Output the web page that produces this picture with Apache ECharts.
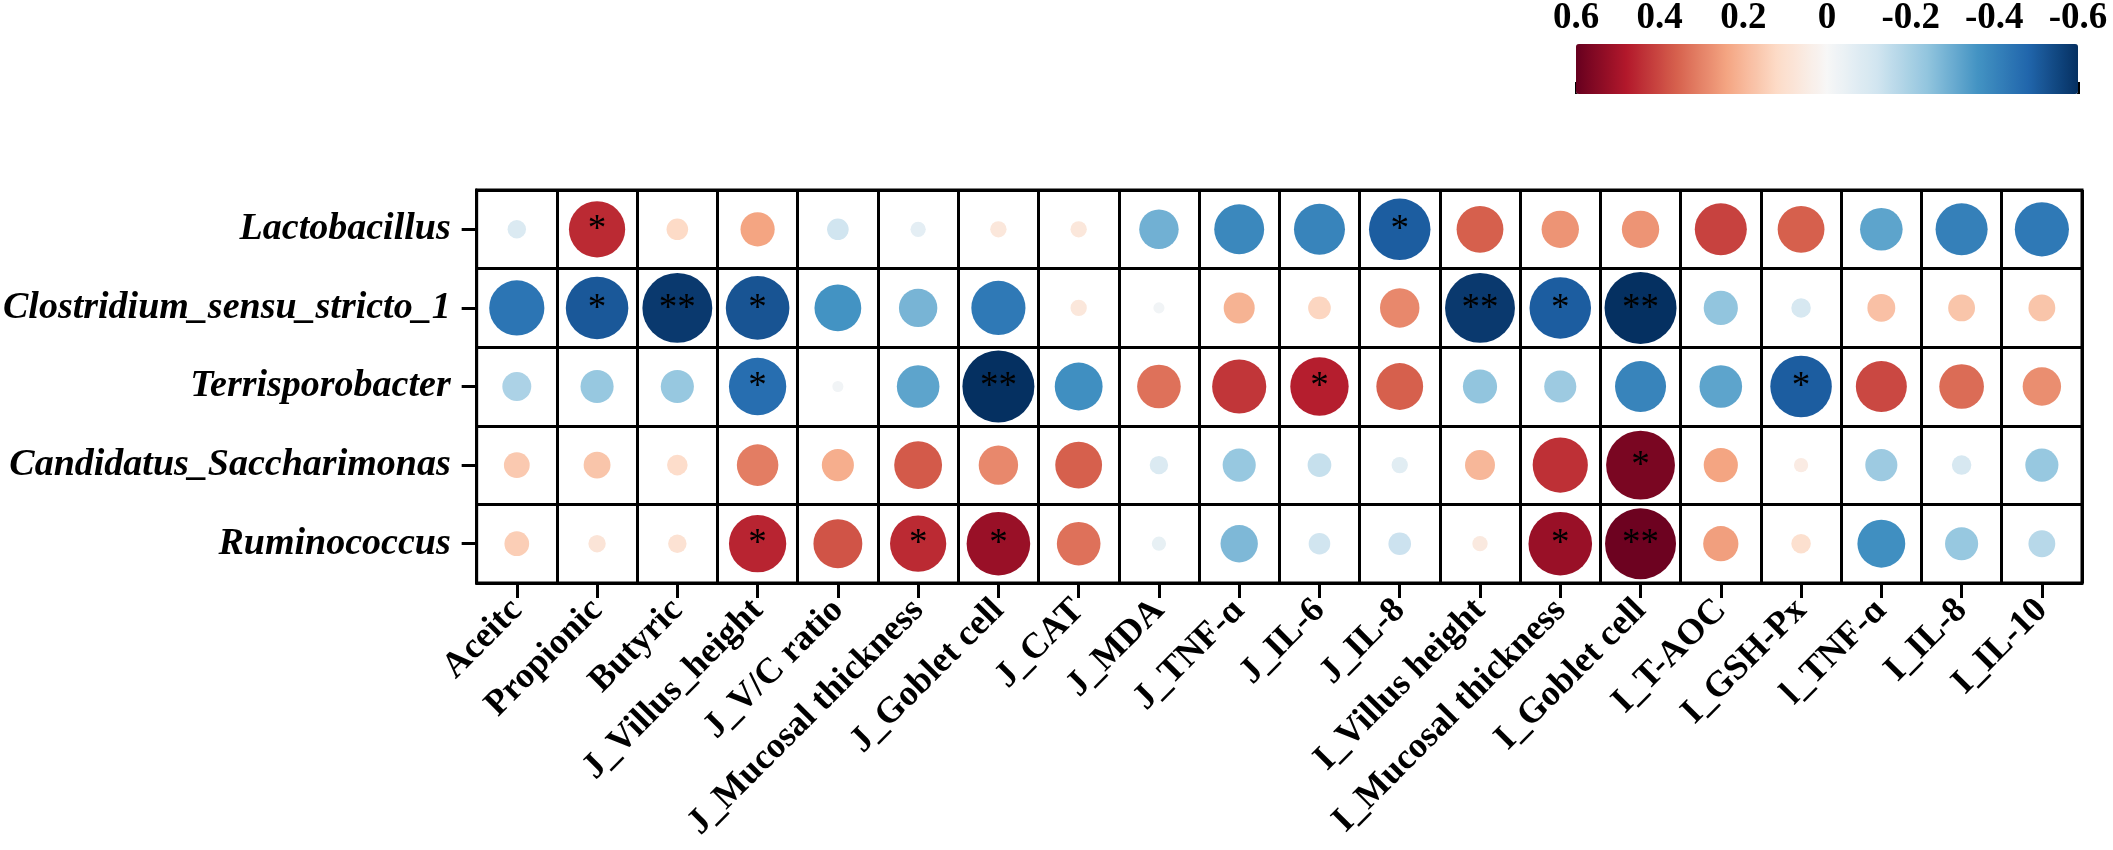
<!DOCTYPE html>
<html>
<head>
<meta charset="utf-8">
<script src="https://cdn.jsdelivr.net/npm/echarts@6/dist/echarts.min.js"></script>
<style>
html,body{margin:0;padding:0;background:#fff;}
#chart{width:2113px;height:850px;}
</style>
</head>
<body>
<div id="chart"></div>
<script>
// ---- data ----
const indicators = ['Aceitc','Propionic','Butyric','J_Villus_height','J_V/C ratio','J_Mucosal thickness','J_Goblet cell','J_CAT','J_MDA','J_TNF-ɑ','J_IL-6','J_IL-8','I_Villus height','I_Mucosal thickness','I_Goblet cell','I_T-AOC','I_GSH-Px','l_TNF-ɑ','I_IL-8','I_IL-10'];
const genera = ['Lactobacillus','Clostridium_sensu_stricto_1','Terrisporobacter','Candidatus_Saccharimonas','Ruminococcus'];

const lactobacillus   = [-0.09, 0.45, 0.12, 0.24,-0.12,-0.06, 0.07, 0.07,-0.29,-0.39,-0.40,-0.50, 0.36, 0.27, 0.27, 0.41, 0.36,-0.32,-0.41,-0.43];
const clostridium     = [-0.44,-0.51,-0.58,-0.52,-0.36,-0.28,-0.43, 0.07,-0.02, 0.21, 0.13, 0.29,-0.58,-0.50,-0.60,-0.24,-0.10, 0.18, 0.17, 0.17];
const terrisporobacter= [-0.19,-0.23,-0.23,-0.46,-0.02,-0.32,-0.60,-0.37, 0.33, 0.43, 0.47, 0.36,-0.24,-0.22,-0.40,-0.32,-0.50, 0.40, 0.34, 0.28];
const candidatus      = [ 0.16, 0.17, 0.11, 0.31, 0.22, 0.37, 0.29, 0.36,-0.09,-0.23,-0.14,-0.07, 0.20, 0.44, 0.57, 0.24, 0.05,-0.22,-0.10,-0.23];
const ruminococcus    = [ 0.15, 0.08, 0.09, 0.46, 0.38, 0.45, 0.52, 0.33,-0.05,-0.27,-0.12,-0.13, 0.06, 0.52, 0.59, 0.25, 0.10,-0.37,-0.23,-0.17];

const sigLactobacillus    = ['','*','','','','','','','','','','*','','','','','','','',''];
const sigClostridium      = ['','*','**','*','','','','','','','','','**','*','**','','','','',''];
const sigTerrisporobacter = ['','','','*','','','**','','','','*','','','','','','*','','',''];
const sigCandidatus       = ['','','','','','','','','','','','','','','*','','','','',''];
const sigRuminococcus     = ['','','','*','','*','*','','','','','','','*','**','','','','',''];

const colorbarTicks = [0.6, 0.4, 0.2, 0, -0.2, -0.4, -0.6];

// ---- build ----
const valueRows = [lactobacillus, clostridium, terrisporobacter, candidatus, ruminococcus];
const sigRows = [sigLactobacillus, sigClostridium, sigTerrisporobacter, sigCandidatus, sigRuminococcus];
const points = [];
valueRows.forEach((row, yi) => row.forEach((v, xi) => points.push([xi, yi, v, sigRows[yi][xi]])));

const FONT = "'Liberation Serif','Times New Roman',serif";
const cbMin = Math.min(...colorbarTicks), cbMax = Math.max(...colorbarTicks);

const chart = echarts.init(document.getElementById('chart'), null, {renderer: 'canvas'});
chart.setOption({
  animation: false,
  backgroundColor: '#fff',
  grid: [
    {left: 470, right: 31, top: 190, bottom: 267, show: true, borderColor: '#000', borderWidth: 3, backgroundColor: 'transparent'},
    {left: 1576, right: 35, top: 44, height: 50, show: false}
  ],
  xAxis: [
    {
      type: 'category', data: indicators, gridIndex: 0, boundaryGap: true,
      axisLine: {show: true, lineStyle: {color: '#000', width: 3}},
      axisTick: {show: true, alignWithLabel: true, length: 15, lineStyle: {color: '#000', width: 3}},
      splitLine: {show: true, lineStyle: {color: '#000', width: 3}},
      axisLabel: {interval: 0, rotate: 45, margin: 22, color: '#000', fontSize: 36, fontWeight: 'bold', fontFamily: FONT}
    },
    {
      type: 'value', gridIndex: 1, position: 'top', min: cbMin, max: cbMax, interval: 0.2, inverse: true,
      axisLine: {show: false},
      axisTick: {show: true, length: 12, lineStyle: {color: '#000', width: 3}},
      splitLine: {show: false},
      axisLabel: {margin: 9, color: '#000', fontSize: 37, fontWeight: 'bold', fontFamily: FONT,
        formatter: v => String(Math.round(v * 10) / 10)}
    }
  ],
  yAxis: [
    {
      type: 'category', data: genera, gridIndex: 0, inverse: true, boundaryGap: true,
      axisLine: {show: true, lineStyle: {color: '#000', width: 3}},
      axisTick: {show: true, alignWithLabel: true, length: 15, lineStyle: {color: '#000', width: 3}},
      splitLine: {show: true, lineStyle: {color: '#000', width: 3}},
      axisLabel: {interval: 0, margin: 26, color: '#000', fontSize: 38, fontWeight: 'bold', fontStyle: 'italic', fontFamily: FONT}
    },
    {type: 'value', gridIndex: 1, show: false, min: 0, max: 1}
  ],
  visualMap: {
    type: 'continuous', seriesIndex: 0, dimension: 2,
    min: cbMin, max: cbMax, calculable: false, inverse: true,
    orient: 'horizontal', left: 1576, top: 44, padding: 0,
    itemWidth: 50, itemHeight: 502, text: null, showLabel: false,
    inRange: {color: ['#053061','#2166ac','#4393c3','#92c5de','#d1e5f0','#f7f7f7','#fddbc7','#f4a582','#d6604d','#b2182b','#67001f']}
  },
  series: [{
    type: 'scatter', xAxisIndex: 0, yAxisIndex: 0,
    data: points,
    symbol: 'circle',
    symbolSize: d => 9 + 105 * Math.abs(d[2]),
    itemStyle: {opacity: 1},
    label: {
      show: true, position: 'inside', offset: [0, 1],
      formatter: p => p.data[3] || '',
      color: '#000', fontSize: 37, fontFamily: FONT
    },
    emphasis: {disabled: true}
  }]
});
</script>
</body>
</html>
